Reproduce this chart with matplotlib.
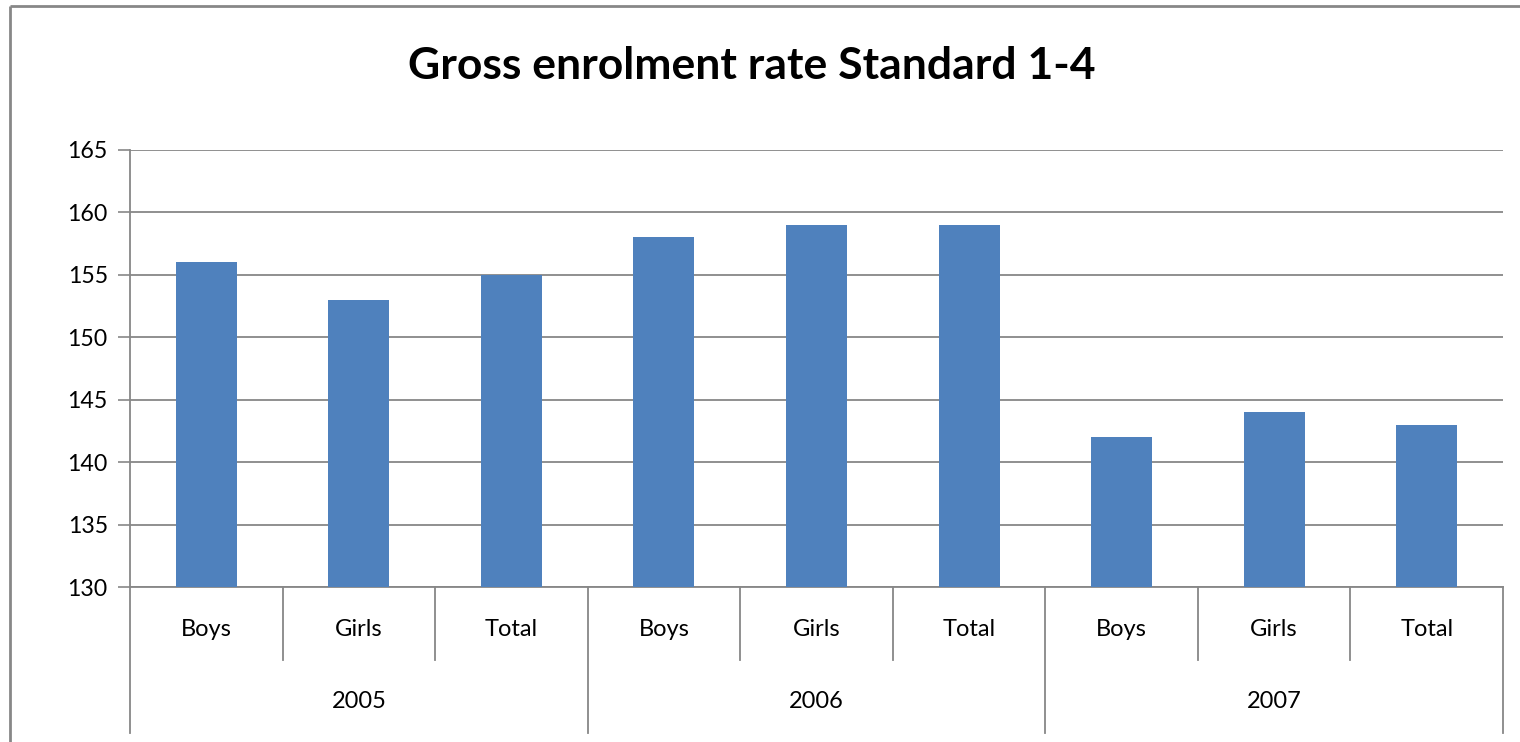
import matplotlib
matplotlib.use("Agg")
import matplotlib.pyplot as plt
import matplotlib.transforms as mtransforms
from matplotlib.lines import Line2D

# data
years = ["2005", "2006", "2007"]
groups = ["Boys", "Girls", "Total"]
rates = [156, 153, 155, 158, 159, 159, 142, 144, 143]
yticks = [130, 135, 140, 145, 150, 155, 160, 165]

plt.rcParams['font.family'] = ['Lato', 'DejaVu Sans']
grey = "#878787"

fig = plt.figure(figsize=(15.2, 7.42), dpi=100)
ax = fig.add_axes([130/1520, 1 - 587/742, (1503-130)/1520, (587-150)/742])

x = list(range(len(rates)))
ax.bar(x, rates, width=0.4, color="#4F81BD", zorder=3)
ax.set_xlim(-0.5, len(rates) - 0.5)
ax.set_ylim(130, 165)
ax.set_yticks(yticks)
ax.tick_params(axis='y', labelsize=16.7, length=9, width=1.2, color=grey, pad=7)
ax.set_xticks([])
ax.grid(axis='y', color=grey, lw=1.3, zorder=0)
for s in ["top", "right"]:
    ax.spines[s].set_visible(False)
for s in ["left", "bottom"]:
    ax.spines[s].set_color(grey)
    ax.spines[s].set_linewidth(1.3)

# two level category axis
trans = mtransforms.blended_transform_factory(ax.transData, ax.transAxes)
n = len(groups)
for i in range(len(rates) + 1):
    b = i - 0.5
    low = -0.334 if i % n == 0 else -0.167
    ax.plot([b, b], [0, low], transform=trans, color=grey, lw=1.3, clip_on=False)
for i, v in enumerate(rates):
    ax.text(i, -0.098, groups[i % n], transform=trans, ha='center', va='center', fontsize=17)
for j, yr in enumerate(years):
    ax.text(j * n + (n - 1) / 2, -0.263, yr, transform=trans, ha='center', va='center', fontsize=17)

fig.suptitle("Gross enrolment rate Standard 1-4", x=752/1520, y=1 - 66/742,
             va='center', fontsize=32, fontweight='bold')

# outer chart border (only left and top edges fall inside the picture)
bx, by = 10/1520, 1 - 6/742
fig.lines.append(Line2D([bx, bx], [0, by], transform=fig.transFigure, color=grey, lw=2,
                        solid_capstyle='butt'))
fig.lines.append(Line2D([bx, 1.05], [by, by], transform=fig.transFigure, color=grey, lw=2,
                        solid_capstyle='butt'))

fig.savefig("out.png", dpi=100)
